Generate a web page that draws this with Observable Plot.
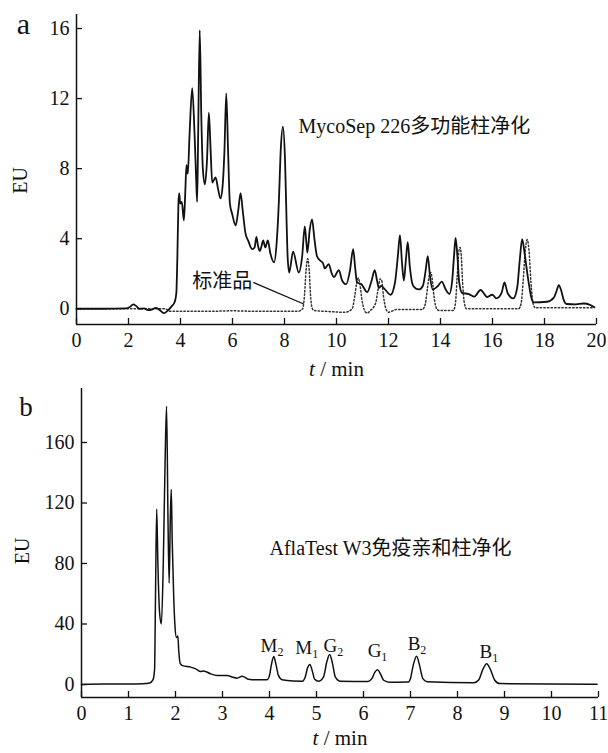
<!DOCTYPE html>
<html>
<head>
<meta charset="utf-8">
<script src="https://cdn.jsdelivr.net/npm/d3@7"></script>
<script src="https://cdn.jsdelivr.net/npm/@observablehq/plot@0.6"></script>
<style>
  html, body { margin: 0; padding: 0; background: #fff; }
  #chart svg { display: block; }
  #chart svg, #chart svg text, #chart svg tspan {
    font-family: 'Liberation Serif', 'Noto Sans CJK SC', serif !important;
    font-variant-numeric: normal !important;
  }
</style>
</head>
<body>
<div id="chart"></div>
<script>
// ---------- Panel a: MycoSep 226 (solid) and standard (dotted) ----------
const mycoTime = [0, 1.0, 1.9, 2.05, 2.18, 2.3, 2.42, 2.6, 2.75, 2.9, 3.05, 3.18, 3.36, 3.5, 3.65, 3.78, 3.84, 3.88, 3.92, 3.95, 3.99, 4.05, 4.13, 4.18, 4.23, 4.28, 4.35, 4.45, 4.54, 4.6, 4.64, 4.68, 4.74, 4.8, 4.86, 4.94, 5.02, 5.09, 5.16, 5.22, 5.35, 5.45, 5.54, 5.62, 5.69, 5.76, 5.83, 5.9, 5.99, 6.12, 6.22, 6.31, 6.4, 6.5, 6.6, 6.76, 6.85, 6.92, 6.98, 7.05, 7.12, 7.18, 7.26, 7.36, 7.45, 7.6, 7.7, 7.78, 7.86, 7.94, 8.02, 8.08, 8.12, 8.18, 8.33, 8.55, 8.68, 8.78, 8.84, 8.88, 8.97, 9.06, 9.15, 9.25, 9.38, 9.48, 9.55, 9.7, 9.82, 9.9, 10.09, 10.22, 10.37, 10.52, 10.64, 10.72, 10.79, 10.96, 11.18, 11.35, 11.47, 11.56, 11.63, 11.72, 11.82, 12.08, 12.25, 12.36, 12.44, 12.52, 12.59, 12.67, 12.74, 12.82, 12.95, 13.17, 13.32, 13.43, 13.51, 13.6, 13.7, 13.9, 14.05, 14.2, 14.34, 14.45, 14.52, 14.58, 14.65, 14.72, 14.83, 15.09, 15.3, 15.54, 15.8, 15.99, 16.15, 16.35, 16.46, 16.58, 16.8, 16.95, 17.05, 17.14, 17.24, 17.36, 17.5, 17.59, 18.1, 18.36, 18.46, 18.55, 18.65, 18.75, 18.85, 19.2, 19.51, 19.75, 19.92];
const mycoEU = [0, 0, 0.02, 0.1, 0.25, 0.15, 0.0, 0.02, -0.08, -0.05, 0.05, -0.05, -0.25, -0.12, 0.12, 0.4, 0.9, 3.0, 6.0, 6.6, 6.0, 6.1, 5.05, 6.5, 8.2, 7.7, 10.0, 12.6, 10.0, 7.5, 6.1, 10.0, 15.9, 11.0, 8.0, 7.1, 8.5, 11.2, 9.0, 7.2, 7.5, 6.8, 6.3, 7.0, 9.0, 12.3, 9.0, 6.0, 5.4, 4.75, 5.6, 6.6, 5.5, 4.3, 3.9, 3.4, 3.5, 4.1, 3.6, 3.3, 3.6, 3.9, 3.5, 3.9, 3.2, 2.65, 3.8, 6.0, 9.2, 10.4, 8.5, 5.0, 3.0, 2.07, 3.26, 2.07, 3.0, 4.7, 3.8, 3.2, 4.5, 5.1, 4.0, 3.0, 2.74, 2.6, 2.3, 2.55, 2.0, 1.8, 2.2, 1.6, 1.4, 2.2, 3.4, 2.3, 1.5, 1.4, 0.95, 1.6, 2.2, 1.6, 1.18, 1.3, 1.18, 0.8, 1.5, 3.0, 4.2, 2.6, 1.6, 2.8, 3.8, 2.4, 1.3, 1.1, 1.3, 2.2, 3.0, 1.8, 1.1, 1.3, 1.55, 1.1, 0.84, 1.6, 3.0, 4.04, 3.0, 1.5, 0.9, 0.84, 0.69, 1.07, 0.67, 0.8, 0.59, 0.9, 1.5, 0.9, 0.59, 1.2, 2.8, 3.98, 3.1, 1.8, 0.6, 0.36, 0.4, 0.63, 1.0, 1.35, 1.0, 0.45, 0.27, 0.25, 0.3, 0.22, 0.08];

const stdTime = [0, 3.4, 3.6, 5.0, 6.0, 7.0, 8.5, 8.7, 8.77, 8.83, 8.89, 8.95, 9.0, 9.06, 9.13, 9.6, 10.35, 10.6, 10.7, 10.78, 10.84, 10.9, 10.98, 11.08, 11.18, 11.3, 11.5, 11.6, 11.68, 11.74, 11.8, 11.9, 12.0, 12.3, 13.3, 13.42, 13.5, 13.57, 13.62, 13.68, 13.75, 13.85, 13.95, 14.5, 14.58, 14.64, 14.7, 14.75, 14.8, 14.85, 14.92, 15.0, 17.0, 17.1, 17.18, 17.26, 17.33, 17.4, 17.48, 17.56, 17.65, 19.9];
const stdEU = [0, 0, -0.15, -0.15, -0.12, -0.15, -0.15, 0.0, 0.8, 2.2, 2.85, 2.2, 0.8, 0.05, -0.1, -0.15, -0.2, 0.0, 0.7, 1.5, 1.75, 1.4, 0.5, -0.1, -0.25, -0.1, 0.3, 1.1, 1.7, 1.6, 0.8, 0.0, -0.2, -0.05, -0.05, 0.3, 1.2, 1.9, 2.07, 1.7, 0.7, 0.0, -0.1, -0.1, 0.4, 1.8, 3.2, 3.5, 3.0, 1.5, 0.3, 0.0, 0.0, 0.3, 1.6, 3.3, 3.95, 3.4, 1.5, 0.3, 0.05, 0.05];

const aXTicks = [0, 2, 4, 6, 8, 10, 12, 14, 16, 18, 20];
const aYTicks = [0, 4, 8, 12, 16];
const aNotes = [{text: "MycoSep 226多功能柱净化", t: 8.54, v: 10.06}];
const stdNote = [{text: "标准品", t: 6.76, v: 1.2}];
const stdLeader = [{t1: 6.8, v1: 1.5, t2: 8.74, v2: 0.27}];

// ---------- Panel b: AflaTest W3 ----------
const aflaTime = [0, 0.5, 1.0, 1.3, 1.45, 1.52, 1.555, 1.575, 1.6, 1.625, 1.66, 1.7, 1.74, 1.78, 1.81, 1.84, 1.865, 1.89, 1.91, 1.93, 1.96, 1.99, 2.02, 2.05, 2.07, 2.1, 2.15, 2.32, 2.45, 2.53, 2.6, 2.75, 2.89, 3.1, 3.2, 3.31, 3.42, 3.55, 3.75, 3.95, 4.0, 4.04, 4.09, 4.14, 4.19, 4.27, 4.5, 4.7, 4.76, 4.81, 4.86, 4.91, 4.96, 5.05, 5.15, 5.22, 5.28, 5.34, 5.4, 5.5, 6.1, 6.18, 6.24, 6.3, 6.36, 6.43, 6.55, 6.95, 7.0, 7.06, 7.13, 7.19, 7.26, 7.35, 8.35, 8.45, 8.54, 8.62, 8.7, 8.79, 8.9, 10.97];
const aflaEU = [0, 0.3, 0.3, 0.5, 1, 3, 10, 60, 116, 80, 48, 40, 80, 150, 184, 110, 67, 110, 129, 95, 60, 38, 31, 32, 22, 14, 12.5, 11.5, 10, 8.6, 9, 7, 6, 6, 5, 4.2, 5.5, 3.5, 3.1, 3.2, 6, 13, 18.5, 13, 6, 3.1, 2.3, 2.2, 5, 11, 13.2, 9, 3.5, 2.2, 5, 15, 19.8, 14, 5, 2.2, 2.0, 4, 8, 9.8, 7, 2.8, 1.5, 1.6, 4, 13, 18.7, 13, 4, 1.8, 1.2, 3, 10, 13.7, 10, 3, 0.6, 0.2];

const bXTicks = [0, 1, 2, 3, 4, 5, 6, 7, 8, 9, 10, 11];
const bYTicks = [0, 40, 80, 120, 160];
const bNotes = [{text: "AflaTest W3免疫亲和柱净化", t: 4.0, v: 85.3}];
const peakLetters = ["M", "M", "G", "G", "B", "B"];
const peakSubs = ["2", "1", "2", "1", "2", "1"];
const peakLabelTime = [4.17, 4.91, 5.44, 6.38, 7.21, 8.74];
const peakLabelEU = [21.4, 20.3, 21.4, 18.5, 22.5, 17.7];

// ---------- helpers ----------
const FONT = "'Liberation Serif', 'Noto Sans CJK SC', serif";
const rows = (T, V) => T.map((t, i) => ({t, v: V[i]}));
const peakRows = peakLetters.map((l, i) => ({letter: l, sub: peakSubs[i], t: peakLabelTime[i], v: peakLabelEU[i]}));

function panel({height, mt, mb, ml, mr, xDomain, yDomain, xTicks, yTicks, tag, tagDx, tagDy, tagSize, eUdx, eUdy, tDy, extra}) {
  const plotW = 608 - ml - mr;
  const plotH = height - mt - mb;
  return Plot.plot({
    width: 608, height,
    marginTop: mt, marginBottom: mb, marginLeft: ml, marginRight: mr,
    style: {fontFamily: FONT, fontSize: "20px", color: "#111", background: "#fff", overflow: "visible"},
    x: {domain: xDomain, label: null},
    y: {domain: yDomain, label: null},
    marks: [
      ...extra,
      Plot.axisX(xTicks, {tickSize: 0, tickPadding: 8, label: null, fontFamily: FONT, fontSize: 20}),
      Plot.axisY(yTicks, {tickSize: 0, tickPadding: 7, label: null, fontFamily: FONT, fontSize: 20}),
      Plot.ruleX(xTicks, {x: d => d, insetTop: plotH - 6, stroke: "#111", strokeWidth: 1.3}),
      Plot.ruleY(yTicks, {y: d => d, insetRight: plotW - 6, stroke: "#111", strokeWidth: 1.3}),
      Plot.ruleX([xDomain[0]], {stroke: "#111", strokeWidth: 1.5}),
      Plot.ruleY([yDomain[0]], {stroke: "#111", strokeWidth: 1.5}),
      Plot.text([tag], {frameAnchor: "top-left", dx: tagDx, dy: tagDy, lineAnchor: "bottom", textAnchor: "middle", fontSize: tagSize, fontFamily: FONT}),
      Plot.text(["EU"], {frameAnchor: "left", dx: eUdx, dy: eUdy, rotate: -90, textAnchor: "middle", fontSize: 20, fontFamily: FONT}),
      Plot.text(["t / min"], {frameAnchor: "bottom", dy: tDy, textAnchor: "middle", fontSize: 21, fontFamily: FONT})
    ]
  });
}

const svgA = panel({
  height: 380, mt: 14, mb: 56, ml: 76, mr: 12,
  xDomain: [0, 20], yDomain: [-0.9, 16.8], xTicks: aXTicks, yTicks: aYTicks,
  tag: "a", tagDx: -53, tagDy: 19, tagSize: 30, eUdx: -56, eUdy: 11, tDy: 51,
  extra: [
    Plot.line(rows(stdTime, stdEU), {x: "t", y: "v", stroke: "#333", strokeWidth: 1.5, strokeDasharray: "1.4,2.2", curve: "monotone-x"}),
    Plot.line(rows(mycoTime, mycoEU), {x: "t", y: "v", stroke: "#111", strokeWidth: 1.8, curve: "monotone-x"}),
    Plot.link(stdLeader, {x1: "t1", y1: "v1", x2: "t2", y2: "v2", stroke: "#111", strokeWidth: 1.3}),
    Plot.text(stdNote, {x: "t", y: "v", text: "text", textAnchor: "end", lineAnchor: "bottom", fontSize: 20, fontFamily: FONT}),
    Plot.text(aNotes, {x: "t", y: "v", text: "text", textAnchor: "start", lineAnchor: "bottom", fontSize: 20, fontFamily: FONT})
  ]
});

const svgB = panel({
  height: 373, mt: 8, mb: 56, ml: 81, mr: 10,
  xDomain: [0, 11], yDomain: [-8.6, 195.7], xTicks: bXTicks, yTicks: bYTicks,
  tag: "b", tagDx: -55.5, tagDy: 27, tagSize: 27, eUdx: -59, eUdy: 8, tDy: 47,
  extra: [
    Plot.line(rows(aflaTime, aflaEU), {x: "t", y: "v", stroke: "#111", strokeWidth: 1.5, curve: "monotone-x"}),
    Plot.text(bNotes, {x: "t", y: "v", text: "text", textAnchor: "start", lineAnchor: "bottom", fontSize: 20, fontFamily: FONT}),
    Plot.text(peakRows, {x: "t", y: "v", text: "letter", textAnchor: "end", lineAnchor: "bottom", fontSize: 19, fontFamily: FONT}),
    Plot.text(peakRows, {x: "t", y: "v", text: "sub", textAnchor: "start", lineAnchor: "bottom", dy: 4, fontSize: 12, fontFamily: FONT})
  ]
});

const chart = document.getElementById("chart");
chart.append(svgA, svgB);

// italic "t" in the axis titles
d3.selectAll("#chart text").filter(function () { return this.textContent === "t / min"; })
  .each(function () {
    const sel = d3.select(this);
    sel.text("");
    sel.append("tspan").attr("font-style", "italic").text("t");
    sel.append("tspan").text(" / min");
  });
</script>
</body>
</html>
